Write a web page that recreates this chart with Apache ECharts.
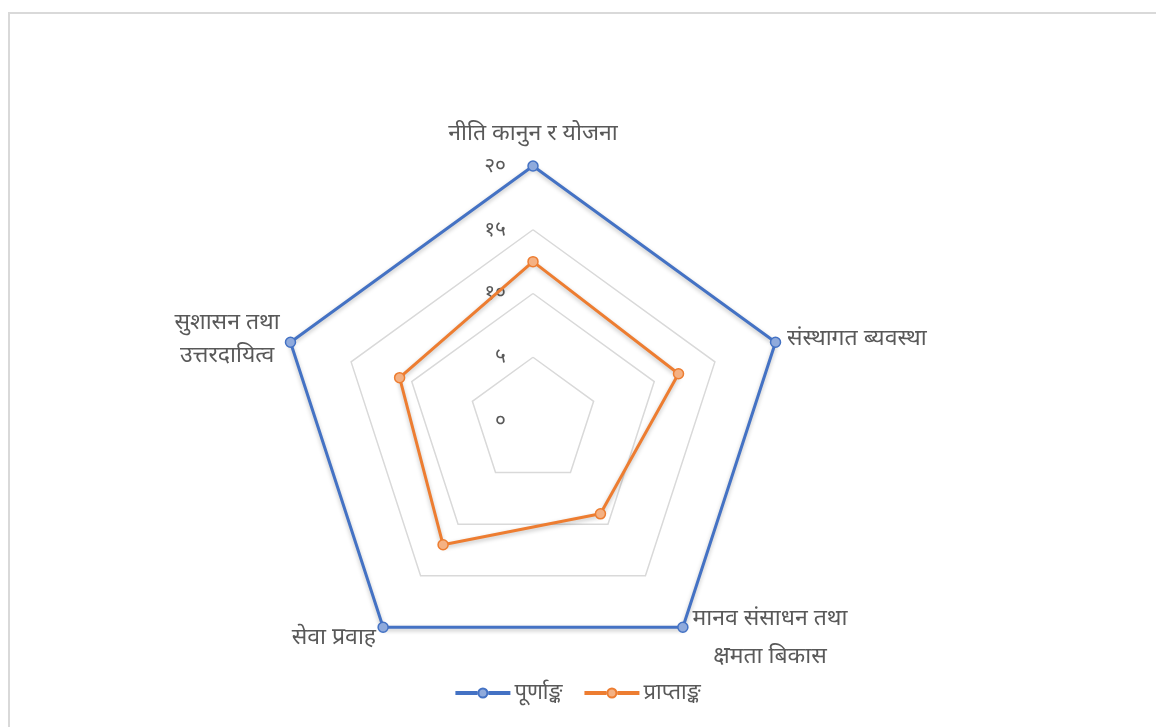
<!DOCTYPE html>
<html>
<head>
<meta charset="utf-8">
<script src="https://cdn.jsdelivr.net/npm/echarts@6/dist/echarts.min.js"></script>
<style>
  html, body { margin: 0; padding: 0; background: #fff; overflow: hidden; }
  #frame { position: absolute; left: 8px; top: 12px; width: 1170px; height: 740px; border: 2px solid #d9d9d9; }
  #main { position: absolute; left: 0; top: 0; width: 1156px; height: 727px; }
</style>
</head>
<body>
<div id="frame"></div>
<div id="main"></div>
<script>
// categories in the order Excel draws them (clockwise from top)
var categories = ['नीति कानुन र योजना', 'संस्थागत ब्यवस्था', 'मानव संसाधन तथा\nक्षमता बिकास', 'सेवा प्रवाह', 'सुशासन तथा\nउत्तरदायित्व'];
var fullMarks = [20, 20, 20, 20, 20];
var obtained = [12.5, 12, 9, 12, 11];
var tickLabels = ['०', '५', '१०', '१५', '२०'];
var seriesNames = ['पूर्णाङ्क', 'प्राप्ताङ्क'];

// echarts places indicators counter-clockwise, so walk the list backwards
var order = [0, 4, 3, 2, 1];
var pick = function (arr) { return order.map(function (i) { return arr[i]; }); };

var font = '"Noto Sans", sans-serif';
// name placement tweaks, keyed by the Excel index
var nameStyles = {
  0: { align: 'center', verticalAlign: 'bottom', padding: [0, 0, 9, 0] },
  1: { align: 'left', verticalAlign: 'middle', padding: [0, 0, 40, 0] },
  2: { align: 'center', verticalAlign: 'middle', lineHeight: 38, padding: [0, 0, 54, 160] },
  3: { align: 'right', verticalAlign: 'middle', padding: [0, 0, 34, 0] },
  4: { align: 'center', verticalAlign: 'middle', lineHeight: 33, padding: [0, 104, 18, 0] }
};

var indicators = order.map(function (i, k) {
  var ind = { name: categories[i], max: 20, min: 0, nameTextStyle: nameStyles[i] };
  if (k === 0) {
    ind.axisLabel = {
      show: true, color: '#595959', fontSize: 21, fontFamily: font, margin: 27,
      padding: [0, 0, 5, 0],
      formatter: function (v) { return tickLabels[Math.round(v / 5)]; }
    };
  }
  return ind;
});

var lineIcon = 'path://M0,3.5 L20,3.5 L20,5.5 L0,5.5 Z M33,3.5 L53,3.5 L53,5.5 L33,5.5 Z M26.5,0 A4.5,4.5 0 1,1 26.49,0 Z';

var myChart = echarts.init(document.getElementById('main'));
myChart.setOption({
  animation: false,
  legend: {
    bottom: 18,
    left: 'center',
    itemWidth: 53,
    itemHeight: 9,
    itemGap: 22,
    textStyle: { color: '#595959', fontSize: 22, fontFamily: font },
    data: [{ name: seriesNames[0], icon: lineIcon }, { name: seriesNames[1], icon: lineIcon }]
  },
  radar: {
    center: [533, 421],
    radius: 255,
    startAngle: 90,
    shape: 'polygon',
    splitNumber: 4,
    axisName: { color: '#595959', fontSize: 23, fontFamily: font },
    nameGap: 12,
    splitLine: { lineStyle: { color: '#d9d9d9', width: 1.5 } },
    splitArea: { show: false },
    axisLine: { show: false },
    axisTick: { show: false },
    axisLabel: { show: false },
    indicator: indicators
  },
  series: [{
    type: 'radar',
    symbol: 'circle',
    symbolSize: 10,
    data: [{
      name: seriesNames[0],
      value: pick(fullMarks),
      lineStyle: { color: '#4472c4', width: 3, shadowColor: 'rgba(0,0,0,0.25)', shadowBlur: 4, shadowOffsetY: 2 },
      itemStyle: { color: '#8faadc', borderColor: '#4472c4', borderWidth: 1.5 }
    }, {
      name: seriesNames[1],
      value: pick(obtained),
      lineStyle: { color: '#ed7d31', width: 3, shadowColor: 'rgba(0,0,0,0.25)', shadowBlur: 4, shadowOffsetY: 2 },
      itemStyle: { color: '#f4b183', borderColor: '#ed7d31', borderWidth: 1.5 }
    }]
  }]
});
</script>
</body>
</html>
